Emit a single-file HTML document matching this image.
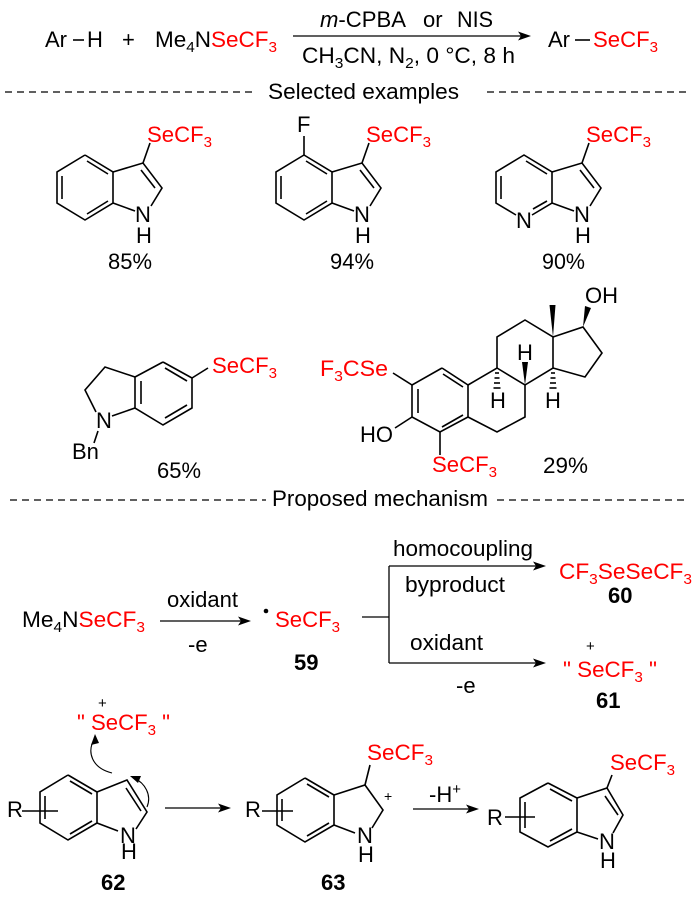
<!DOCTYPE html>
<html><head><meta charset="utf-8"><style>
html,body{margin:0;padding:0;background:#fff;}
svg{display:block;}
text{font-family:"Liberation Sans",Arial,sans-serif;font-size:22px;fill:#000;}
.r{fill:#ff0000;}
.b{font-weight:bold;}
.s{font-size:15px;}
line,polyline,path.bd{stroke:#000;stroke-width:1.6;fill:none;}
.dash{stroke:#000;stroke-width:1.2;stroke-dasharray:7 5;}
.ar{stroke:#000;stroke-width:1.3;}
</style></head><body>
<svg width="700" height="905" viewBox="0 0 700 905" xmlns="http://www.w3.org/2000/svg">
<!-- Top equation -->
<text x="45" y="47">Ar</text>
<line x1="73" y1="40" x2="84" y2="40"/>
<text x="87" y="47">H</text>
<text x="122" y="47">+</text>
<text x="155" y="47" textLength="122" lengthAdjust="spacingAndGlyphs">Me<tspan class="s" dy="5">4</tspan><tspan dy="-5">N</tspan><tspan class="r">SeCF</tspan><tspan class="s r" dy="5">3</tspan></text>
<text x="320" y="27" textLength="86" lengthAdjust="spacingAndGlyphs"><tspan font-style="italic">m</tspan>-CPBA</text>
<text x="423" y="27">or</text>
<text x="457" y="27" textLength="36" lengthAdjust="spacingAndGlyphs">NIS</text>
<line class="ar" x1="293" y1="36" x2="522" y2="36"/>
<polygon points="531,36 518,31.5 521,36 518,40.5"/>
<text x="302" y="63" textLength="213" lengthAdjust="spacingAndGlyphs">CH<tspan class="s" dy="5">3</tspan><tspan dy="-5">CN, N</tspan><tspan class="s" dy="5">2</tspan><tspan dy="-5">, 0 °C, 8 h</tspan></text>
<text x="548" y="47">Ar</text>
<line x1="575" y1="40" x2="590" y2="40"/>
<text x="593" y="47" class="r" textLength="65" lengthAdjust="spacingAndGlyphs">SeCF<tspan class="s" dy="5">3</tspan></text>

<line class="dash" x1="5" y1="92" x2="257" y2="92"/>
<text x="268" y="99" textLength="191" lengthAdjust="spacingAndGlyphs">Selected examples</text>
<line class="dash" x1="487" y1="92" x2="688" y2="92"/>

<!-- Indole 1 -->
<g>
<polyline points="85,155 113,172 113,203 85,220 57,203 57,172 85,155"/>
<line x1="62" y1="176" x2="62" y2="199"/>
<line x1="87" y1="161" x2="108" y2="174"/>
<line x1="108" y1="201" x2="87" y2="214"/>
<polyline points="113,203 135,211"/>
<polyline points="113,172 143,163 162,188 151,206"/>
<line x1="141" y1="170" x2="155" y2="188"/>
<line x1="143" y1="163" x2="150" y2="143"/>
</g>
<text x="135" y="222">N</text><text x="136" y="243">H</text>
<text x="147" y="142" class="r" textLength="65" lengthAdjust="spacingAndGlyphs">SeCF<tspan class="s" dy="5">3</tspan></text>
<text x="108" y="269" textLength="44" lengthAdjust="spacingAndGlyphs">85%</text>

<!-- Indole 2 -->
<g transform="translate(219,0)">
<polyline points="85,155 113,172 113,203 85,220 57,203 57,172 85,155"/>
<line x1="62" y1="176" x2="62" y2="199"/>
<line x1="87" y1="161" x2="108" y2="174"/>
<line x1="108" y1="201" x2="87" y2="214"/>
<polyline points="113,203 135,211"/>
<polyline points="113,172 143,163 162,188 151,206"/>
<line x1="141" y1="170" x2="155" y2="188"/>
<line x1="143" y1="163" x2="150" y2="143"/>
<line x1="85" y1="155" x2="85" y2="136"/>
</g>
<text x="297" y="132">F</text>
<text x="354" y="222">N</text><text x="355" y="243">H</text>
<text x="366" y="142" class="r" textLength="65" lengthAdjust="spacingAndGlyphs">SeCF<tspan class="s" dy="5">3</tspan></text>
<text x="330" y="269" textLength="44" lengthAdjust="spacingAndGlyphs">94%</text>

<!-- Azaindole -->
<g transform="translate(439,0)">
<polyline points="77,215 57,203 57,172 85,155 113,172 113,203 93,215"/>
<line x1="62" y1="176" x2="62" y2="199"/>
<line x1="87" y1="161" x2="108" y2="174"/>
<line x1="108" y1="201" x2="94" y2="209"/>
<polyline points="113,203 135,211"/>
<polyline points="113,172 143,163 162,188 151,206"/>
<line x1="141" y1="170" x2="155" y2="188"/>
<line x1="143" y1="163" x2="150" y2="143"/>
</g>
<text x="516" y="228">N</text>
<text x="574" y="222">N</text><text x="575" y="243">H</text>
<text x="586" y="142" class="r" textLength="65" lengthAdjust="spacingAndGlyphs">SeCF<tspan class="s" dy="5">3</tspan></text>
<text x="542" y="269" textLength="43" lengthAdjust="spacingAndGlyphs">90%</text>

<!-- N-Bn indoline -->
<polyline points="163,362 192,378 192,408 163,425 135,408 135,377 163,362"/>
<line x1="141" y1="381" x2="141" y2="404"/>
<line x1="165" y1="368" x2="187" y2="381"/>
<line x1="187" y1="405" x2="165" y2="418"/>
<polyline points="135,377 105,367 85,390 96,412"/>
<line x1="135" y1="408" x2="112" y2="416"/>
<line x1="98" y1="431" x2="94" y2="443"/>
<line x1="192" y1="378" x2="208" y2="368"/>
<text x="96" y="428">N</text>
<text x="72" y="459">Bn</text>
<text x="212" y="373" class="r" textLength="65" lengthAdjust="spacingAndGlyphs">SeCF<tspan class="s" dy="5">3</tspan></text>
<text x="157" y="478" textLength="44" lengthAdjust="spacingAndGlyphs">65%</text>

<!-- Steroid -->
<polyline points="442,368 468,385 468,417 440,432 412,417 412,385 442,368"/>
<line x1="443" y1="374" x2="463" y2="387"/>
<line x1="418" y1="389" x2="418" y2="413"/>
<line x1="463" y1="415" x2="442" y2="427"/>
<polyline points="468,385 497,368 525,385 525,417 497,432 468,417"/>
<polyline points="497,368 497,337 525,320 553,337 553,368 525,385"/>
<polyline points="553,337 583,327 602,353 585,377 553,368"/>
<polygon points="553,337 549.5,305 555.5,305"/>
<polygon points="583,327 585,306 591,308"/>
<polygon points="525,385 522,362 528,362"/>
<g stroke="#000" stroke-width="1.3">
<line x1="495" y1="373" x2="499" y2="373"/><line x1="494.5" y1="378" x2="499.5" y2="378"/><line x1="494" y1="383" x2="500" y2="383"/><line x1="493.5" y1="388" x2="500.5" y2="388"/>
<line x1="551" y1="373" x2="555" y2="373"/><line x1="550.5" y1="378" x2="555.5" y2="378"/><line x1="550" y1="383" x2="556" y2="383"/><line x1="549.5" y1="388" x2="556.5" y2="388"/>
</g>
<text x="517" y="360">H</text>
<text x="490" y="408">H</text>
<text x="545" y="408">H</text>
<text x="585" y="303">OH</text>
<line x1="412" y1="385" x2="393" y2="373"/>
<line x1="412" y1="417" x2="395" y2="428"/>
<line x1="440" y1="432" x2="440" y2="455"/>
<text x="320" y="376" class="r" textLength="68" lengthAdjust="spacingAndGlyphs">F<tspan class="s" dy="5">3</tspan><tspan dy="-5">CSe</tspan></text>
<text x="360" y="442">HO</text>
<text x="432" y="472" class="r" textLength="65" lengthAdjust="spacingAndGlyphs">SeCF<tspan class="s" dy="5">3</tspan></text>
<text x="543" y="473" textLength="45" lengthAdjust="spacingAndGlyphs">29%</text>

<line class="dash" x1="10" y1="500" x2="266" y2="500"/>
<text x="272" y="506" textLength="216" lengthAdjust="spacingAndGlyphs">Proposed mechanism</text>
<line class="dash" x1="497" y1="500" x2="686" y2="500"/>

<!-- Mechanism -->
<text x="22" y="627" textLength="123" lengthAdjust="spacingAndGlyphs">Me<tspan class="s" dy="5">4</tspan><tspan dy="-5">N</tspan><tspan class="r">SeCF</tspan><tspan class="s r" dy="5">3</tspan></text>
<line class="ar" x1="160" y1="621" x2="242" y2="621"/>
<polygon points="251,621 238,616.5 241,621 238,625.5"/>
<text x="167" y="607" textLength="71" lengthAdjust="spacingAndGlyphs">oxidant</text>
<text x="188" y="652">-e</text>
<circle cx="266" cy="611" r="2.3" fill="#000"/>
<text x="275" y="627" class="r" textLength="65" lengthAdjust="spacingAndGlyphs">SeCF<tspan class="s" dy="5">3</tspan></text>
<text x="294" y="670" class="b">59</text>
<line class="ar" x1="362" y1="617" x2="389" y2="617"/>
<line class="ar" x1="389" y1="566" x2="389" y2="663"/>
<line class="ar" x1="389" y1="566" x2="537" y2="566"/>
<polygon points="546,566 533,561.5 536,566 533,570.5"/>
<line class="ar" x1="389" y1="663" x2="537" y2="663"/>
<polygon points="546,663 533,658.5 536,663 533,667.5"/>
<text x="393" y="556" textLength="140" lengthAdjust="spacingAndGlyphs">homocoupling</text>
<text x="405" y="592" textLength="100" lengthAdjust="spacingAndGlyphs">byproduct</text>
<text x="559" y="579" class="r" textLength="133" lengthAdjust="spacingAndGlyphs">CF<tspan class="s" dy="5">3</tspan><tspan dy="-5">SeSeCF</tspan><tspan class="s" dy="5">3</tspan></text>
<text x="608" y="603" class="b">60</text>
<text x="410" y="650" textLength="73" lengthAdjust="spacingAndGlyphs">oxidant</text>
<text x="456" y="693">-e</text>
<text x="586" y="651" style="font-size:15px">+</text>
<text x="563" y="677" class="r" textLength="94" lengthAdjust="spacingAndGlyphs">" SeCF<tspan class="s" dy="5">3</tspan><tspan dy="-5"> "</tspan></text>
<text x="596" y="708" class="b">61</text>

<!-- 62 -->
<text x="98" y="708" style="font-size:15px">+</text>
<text x="77" y="730" class="r" textLength="93" lengthAdjust="spacingAndGlyphs">" SeCF<tspan class="s" dy="5">3</tspan><tspan dy="-5"> "</tspan></text>
<polyline points="68,775 97,792 97,823 68,840 40,823 40,792 68,775"/>
<line x1="45" y1="796" x2="45" y2="819"/>
<line x1="70" y1="781" x2="92" y2="794"/>
<line x1="92" y1="821" x2="70" y2="834"/>
<polyline points="97,823 118,831"/>
<polyline points="97,792 127,780 147,812 136,829"/>
<line x1="126" y1="788" x2="141" y2="811"/>
<line x1="22" y1="811" x2="58" y2="811"/>
<text x="7" y="817">R</text>
<text x="120" y="843">N</text><text x="121" y="859">H</text>
<text x="101" y="890" class="b">62</text>
<path class="bd" style="stroke-width:1.1" d="M112,773 C92,768 86,752 95,738"/>
<polygon points="95,734 91,745 99,743"/>
<path class="bd" style="stroke-width:1.1" d="M147,807 C152,795 145,783 134,778"/>
<polygon points="130,776 138,783 141,776"/>
<line class="ar" x1="165" y1="808" x2="222" y2="808"/>
<polygon points="231,808 218,803.5 221,808 218,812.5"/>

<!-- 63 -->
<polyline points="305,778 334,795 334,825 305,842 277,825 277,795 305,778"/>
<line x1="282" y1="799" x2="282" y2="821"/>
<line x1="307" y1="784" x2="329" y2="797"/>
<line x1="329" y1="823" x2="307" y2="836"/>
<polyline points="334,825 355,833"/>
<polyline points="334,795 365,785 383,810 372,828"/>
<line x1="365" y1="785" x2="370" y2="765"/>
<line x1="262" y1="811" x2="293" y2="811"/>
<text x="245" y="817">R</text>
<text x="357" y="843">N</text><text x="358" y="862">H</text>
<text x="384" y="801" style="font-size:14px">+</text>
<text x="367" y="760" class="r" textLength="66" lengthAdjust="spacingAndGlyphs">SeCF<tspan class="s" dy="5">3</tspan></text>
<text x="321" y="890" class="b">63</text>
<line class="ar" x1="413" y1="809" x2="470" y2="809"/>
<polygon points="479,809 466,804.5 469,809 466,813.5"/>
<text x="429" y="802">-H<tspan class="s" dy="-8">+</tspan></text>

<!-- Final indole -->
<polyline points="548,783 577,798 577,832 548,847 520,832 520,798 548,783"/>
<line x1="525" y1="802" x2="525" y2="828"/>
<line x1="550" y1="789" x2="572" y2="801"/>
<line x1="572" y1="829" x2="550" y2="841"/>
<polyline points="577,832 598,839"/>
<polyline points="577,798 607,788 623,815 613,833"/>
<line x1="605" y1="796" x2="618" y2="815"/>
<line x1="607" y1="788" x2="612" y2="775"/>
<line x1="505" y1="817" x2="535" y2="817"/>
<text x="487" y="825">R</text>
<text x="599" y="849">N</text><text x="600" y="868">H</text>
<text x="610" y="770" class="r" textLength="65" lengthAdjust="spacingAndGlyphs">SeCF<tspan class="s" dy="5">3</tspan></text>
</svg>
</body></html>
